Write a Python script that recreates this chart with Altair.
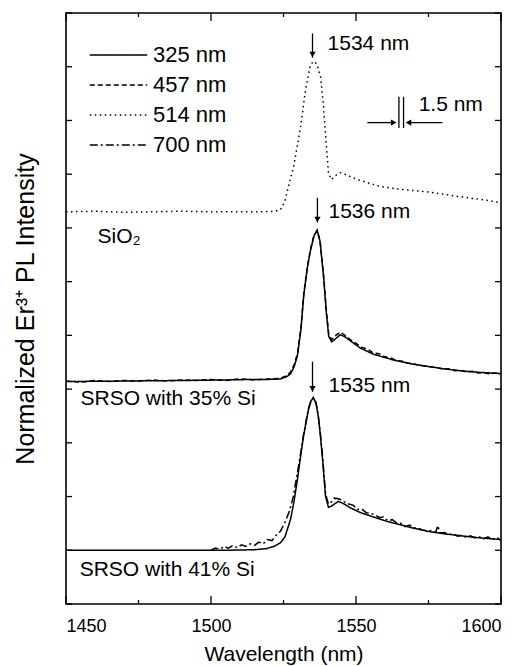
import altair as alt
import pandas as pd

FONT = "Liberation Sans"

# ---------------- data ----------------
laser_labels = ["325 nm", "457 nm", "514 nm", "700 nm"]

# SiO2, 514 nm excitation (dotted)
sio2_514_wl = [1450, 1460, 1470, 1480, 1490, 1500, 1510, 1518, 1522, 1524, 1525.5, 1526.4, 1528.5,
               1530.9, 1532.6, 1534.3, 1535.5, 1536.5, 1537.8, 1538.8, 1539.8, 1540.5, 1541.5,
               1542.5, 1544.6, 1547, 1550.5, 1558.4, 1565, 1574.7, 1580, 1586, 1593, 1600]
sio2_514_i = [7.30, 7.31, 7.29, 7.30, 7.31, 7.30, 7.30, 7.30, 7.31, 7.34, 7.50, 7.71, 8.14,
              8.88, 9.57, 10.04, 10.10, 10.05, 9.81, 9.26, 8.51, 8.03, 7.90,
              7.96, 8.03, 7.98, 7.90, 7.77, 7.72, 7.67, 7.63, 7.58, 7.53, 7.47]

# SRSO 35% Si, 325 nm (solid)
s35_325_wl = [1450, 1470, 1490, 1505, 1515, 1520, 1524, 1526, 1527.4, 1528.7, 1529.8, 1531, 1532,
              1533.2, 1534.3, 1535.5, 1536.6, 1537.6, 1538.8, 1539.8, 1540.6, 1541.6, 1542.8,
              1544.5, 1546, 1548, 1551.6, 1556, 1563, 1570, 1575, 1580, 1586, 1593, 1600]
s35_325_i = [4.14, 4.15, 4.16, 4.17, 4.18, 4.18, 4.19, 4.23, 4.28, 4.42, 4.62, 5.10, 5.75,
             6.25, 6.58, 6.85, 6.96, 6.75, 6.10, 5.40, 4.98, 4.88, 4.93,
             5.01, 4.98, 4.90, 4.76, 4.65, 4.54, 4.46, 4.42, 4.38, 4.34, 4.31, 4.29]

# SRSO 35% Si, 457 nm (dashed)
s35_457_wl = [1450, 1455, 1460, 1465, 1470, 1475, 1480, 1485, 1490, 1495, 1500, 1505, 1510, 1515,
              1520, 1524, 1526, 1527.4, 1528.7, 1529.8, 1531, 1532, 1533.2, 1534.3, 1535.5, 1536.6,
              1537.6, 1538.8, 1539.8, 1540.6, 1541.6, 1542.8, 1544.5, 1546, 1548, 1550, 1552, 1554,
              1556, 1558, 1560, 1562, 1564, 1566, 1568, 1570, 1572, 1574, 1576, 1578, 1580, 1582,
              1584, 1586, 1588, 1590, 1592, 1594, 1596, 1598, 1600]
s35_457_i = [4.15, 4.13, 4.16, 4.14, 4.16, 4.15, 4.17, 4.15, 4.17, 4.16, 4.18, 4.16, 4.19, 4.17,
             4.19, 4.20, 4.25, 4.31, 4.46, 4.66, 5.14, 5.78, 6.27, 6.60, 6.86, 6.95,
             6.76, 6.13, 5.45, 5.02, 4.92, 4.99, 5.06, 5.01, 4.92, 4.85, 4.78, 4.74,
             4.67, 4.66, 4.60, 4.58, 4.53, 4.52, 4.48, 4.47, 4.44, 4.43, 4.41, 4.40, 4.37, 4.38,
             4.34, 4.35, 4.32, 4.33, 4.30, 4.31, 4.28, 4.30, 4.27]

# SRSO 41% Si, 325 nm (solid)
s41_325_wl = [1450, 1470, 1490, 1505, 1515, 1519, 1521.6, 1524, 1525.5, 1527.4, 1528.6, 1529.8,
              1530.9, 1531.9, 1533.6, 1534.5, 1535.3, 1536.2, 1537, 1537.7, 1538.4, 1539.5, 1540.5,
              1541.5, 1543.9, 1546, 1548, 1551.6, 1556, 1560, 1565, 1570, 1575, 1580, 1586, 1593, 1600]
s41_325_i = [1.00, 1.00, 1.00, 1.00, 1.01, 1.03, 1.07, 1.14, 1.25, 1.57, 1.90, 2.32,
             2.75, 3.12, 3.62, 3.78, 3.84, 3.74, 3.49, 3.15, 2.74, 2.00, 1.80,
             1.82, 1.91, 1.86, 1.79, 1.70, 1.62, 1.55, 1.48, 1.41, 1.35, 1.31, 1.27, 1.23, 1.20]

# SRSO 41% Si, 700 nm (dash-dot, noisy)
s41_700_wl = [1500, 1501.5, 1503, 1504.5, 1506, 1507.5, 1509, 1510.5, 1512, 1513.5, 1515, 1516.5,
              1518, 1519.5, 1521, 1522.5, 1524, 1525.5, 1527, 1528.3, 1529.6, 1530.9, 1531.9,
              1533.6, 1534.5, 1535.3, 1536.2, 1537, 1537.7, 1538.4, 1539.5, 1540.5, 1541.5,
              1542.5, 1543.9, 1545, 1546, 1547.5, 1549, 1550.5, 1552, 1553.5, 1555, 1556.5, 1558,
              1559.5, 1561, 1562.5, 1564, 1565.5, 1567, 1568.5, 1570, 1571.5, 1573, 1574.5, 1576,
              1577.5, 1578.2, 1579, 1580.5, 1582, 1583.5, 1585, 1586.5, 1588, 1589.5, 1591, 1592.5,
              1594, 1595.5, 1597, 1598.5, 1600]
s41_700_i = [1.00, 1.04, 1.02, 1.07, 1.04, 1.09, 1.05, 1.10, 1.07, 1.12, 1.09, 1.15,
             1.12, 1.20, 1.18, 1.28, 1.36, 1.52, 1.72, 1.98, 2.38, 2.80, 3.15,
             3.64, 3.79, 3.84, 3.75, 3.50, 3.17, 2.78, 2.05, 1.86, 1.90,
             1.97, 1.96, 1.94, 1.90, 1.86, 1.84, 1.76, 1.77, 1.70, 1.69, 1.66, 1.61,
             1.62, 1.55, 1.57, 1.51, 1.50, 1.44, 1.47, 1.42, 1.41, 1.38, 1.36, 1.37,
             1.33, 1.46, 1.32, 1.33, 1.29, 1.31, 1.26, 1.28, 1.24, 1.27, 1.23, 1.25,
             1.21, 1.25, 1.19, 1.24, 1.18]

# annotations
ann_text = ["1534 nm", "1536 nm", "1535 nm", "SiO\u2082", "SRSO with 35% Si", "SRSO with 41% Si", "1.5 nm"]
ann_x = [1540.2, 1540.5, 1540.5, 1460.9, 1455.0, 1454.7, 1571.6]
ann_y = [10.43, 7.30, 4.05, 6.84, 3.81, 0.64, 9.29]

# peak arrows (downward)
arrow_x = [1535.0, 1536.7, 1535.0]
arrow_top = [10.62, 7.56, 4.51]
arrow_bot = [10.17, 7.10, 3.95]

# resolution marker
res_bar_x = [1564.8, 1566.4]
res_bar_top = [9.44, 9.44]
res_bar_bot = [8.86, 8.86]
res_arrow_from = [1553.9, 1579.8]
res_arrow_to = [1563.0, 1568.1]
res_arrow_y = [8.96, 8.96]
res_arrow_shape = ["triangle-right", "triangle-left"]

# axis ticks
x_major = [1450, 1500, 1550, 1600]
x_minor = [1475, 1525, 1575]
y_ticks = list(range(0, 12))

# ---------------- build tables ----------------
rows = []
for cid, laser, wl, inten in [
    ("SiO2-514", "514 nm", sio2_514_wl, sio2_514_i),
    ("S35-325", "325 nm", s35_325_wl, s35_325_i),
    ("S35-457", "457 nm", s35_457_wl, s35_457_i),
    ("S41-325", "325 nm", s41_325_wl, s41_325_i),
    ("S41-700", "700 nm", s41_700_wl, s41_700_i),
]:
    for w, v in zip(wl, inten):
        rows.append({"wl": w, "inten": v, "curve": cid, "laser": laser})
curves = pd.DataFrame(rows)

ann_df = pd.DataFrame({"text": ann_text, "x": ann_x, "y": ann_y})
arr_df = pd.DataFrame({"x": arrow_x, "top": arrow_top, "bot": arrow_bot})
bar_df = pd.DataFrame({"x": res_bar_x, "top": res_bar_top, "bot": res_bar_bot})
harr_df = pd.DataFrame({"x1": res_arrow_from, "x2": res_arrow_to, "y": res_arrow_y, "shape": res_arrow_shape})
xmaj_df = pd.DataFrame({"x": x_major})
xmin_df = pd.DataFrame({"x": x_minor})
ytk_df = pd.DataFrame({"y": y_ticks})

XS = alt.Scale(domain=[1450, 1600], nice=False, zero=False)
YS = alt.Scale(domain=[0, 11], nice=False, zero=False)

AX = alt.Axis(values=x_major, title="Wavelength (nm)", ticks=False, tickSize=0,
              domain=False, grid=False, labelFontSize=18, labelFont=FONT,
              labelColor="black", labelPadding=13, titleFontSize=21, titleFont=FONT,
              titleFontWeight="normal", titleColor="black", titlePadding=8, format="d")
AY = alt.Axis(labels=False, ticks=False, tickSize=0, domain=False, grid=False,
              title="Normalized Er\u00b3\u207a PL Intensity", titleFontSize=25,
              titleFont=FONT, titleFontWeight="normal", titleColor="black", titlePadding=28)


def X(field, **kw):
    return alt.X(field, scale=XS, axis=AX, **kw)


def Y(field, **kw):
    return alt.Y(field, scale=YS, axis=AY, **kw)


lines = alt.Chart(curves).mark_line(strokeWidth=1.5, color="black").encode(
    x=X("wl:Q"),
    y=Y("inten:Q"),
    strokeDash=alt.StrokeDash(
        "laser:N",
        scale=alt.Scale(domain=laser_labels, range=[[1, 0], [5, 3], [1.5, 3.5], [8, 3, 2, 3]]),
        legend=alt.Legend(orient="none", legendX=23, legendY=27, title=None, padding=0,
                          symbolType="stroke", symbolSize=3300, symbolStrokeWidth=1.4,
                          symbolStrokeColor="black", labelFontSize=22, labelFont=FONT,
                          labelColor="black", labelOffset=5, rowPadding=0, clipHeight=30,
                          labelLimit=300)),
    detail="curve:N",
)

texts = alt.Chart(ann_df).mark_text(align="left", baseline="middle", fontSize=21, font=FONT,
                                    color="black").encode(
    x=X("x:Q"), y=Y("y:Q"), text="text:N")

arrow_shaft = alt.Chart(arr_df).mark_rule(color="black", strokeWidth=1.3).encode(
    x=X("x:Q"), y=Y("top:Q"), y2="bot:Q")
arrow_head = alt.Chart(arr_df).mark_point(shape="triangle-down", filled=True, size=40,
                                          color="black", opacity=1, yOffset=-3).encode(
    x=X("x:Q"), y=Y("bot:Q"))

res_bars = alt.Chart(bar_df).mark_rule(color="black", strokeWidth=1.3).encode(
    x=X("x:Q"), y=Y("top:Q"), y2="bot:Q")
res_shaft = alt.Chart(harr_df).mark_rule(color="black", strokeWidth=1.3).encode(
    x=X("x1:Q"), x2="x2:Q", y=Y("y:Q"))
res_head = alt.Chart(harr_df).mark_point(filled=True, size=40, color="black", opacity=1).encode(
    x=X("x2:Q"), y=Y("y:Q"), shape=alt.Shape("shape:N", scale=None))


# inward axis ticks
def xticks(df, yval, size, sign):
    return alt.Chart(df).mark_tick(orient="vertical", size=size, thickness=1.3, color="black",
                                   opacity=1, yOffset=sign * size / 2).encode(
        x=X("x:Q"), y=alt.datum(yval, scale=YS, axis=AY))


def yticks(xval, size, sign):
    return alt.Chart(ytk_df).mark_tick(orient="horizontal", size=size, thickness=1.3,
                                       color="black", opacity=1, xOffset=sign * size / 2).encode(
        y=Y("y:Q"), x=alt.datum(xval, scale=XS, axis=AX))


tick_layers = [
    xticks(xmaj_df, 0, 8, -1), xticks(xmin_df, 0, 4, -1),
    xticks(xmaj_df, 11, 8, 1), xticks(xmin_df, 11, 4, 1),
    yticks(1450, 6, 1), yticks(1600, 6, -1),
]

chart = alt.layer(lines, texts, arrow_shaft, arrow_head, res_bars, res_shaft, res_head,
                  *tick_layers).properties(
    width=435, height=591,
    autosize=alt.AutoSizeParams(type="none"),
    padding={"left": 58, "top": 5, "right": 12, "bottom": 62},
    background="white",
).configure_view(stroke="black", strokeWidth=1.6)

chart.save("out.html", embed_options={"renderer": "svg", "actions": False})
